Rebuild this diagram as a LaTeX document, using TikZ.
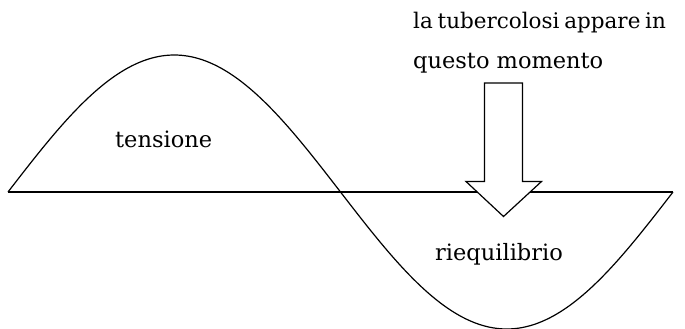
\documentclass[tikz,border=0pt]{standalone}
\usepackage{fontspec}
\setmainfont{DejaVu Serif}
\newcommand{\tightspace}{\spaceskip=0.22em\relax}
\begin{document}
\begin{tikzpicture}[x=1pt,y=-1pt,
  lbl/.style={anchor=base west,inner sep=0pt,font=\fontsize{22.5}{27}\selectfont},
  tight/.style={anchor=base west,inner sep=0pt,font=\fontsize{21.5}{27}\selectfont},
  wave/.style={line width=1.2pt},
  blockarrow/.style={line width=1.2pt,fill=white,line join=miter}]
\useasboundingbox (0,0) rectangle (685,329);
% baseline
\coordinate (L) at (8,192);
\coordinate (R) at (673,192);
\draw[wave] (L) -- (R);
% sine wave
\draw[wave] plot[domain=8:673,samples=200,smooth] (\x,{192-137*sin((\x-8)/665*360)});
% block arrow
\draw[blockarrow] (484.5,83) -- (522.5,83) -- (522.5,181.5) -- (541.5,181.5)
  -- (503.5,216.5) -- (466,181.5) -- (484.5,181.5) -- cycle;
% labels
\node[tight] (t1) at (413,29) {\tightspace la tubercolosi appare in};
\node[lbl] (t2) at (413,68) {questo momento};
\node[lbl] (ten) at (115,147) {tensione};
\node[lbl] (riq) at (435,260.5) {riequilibrio};
\end{tikzpicture}
\end{document}
